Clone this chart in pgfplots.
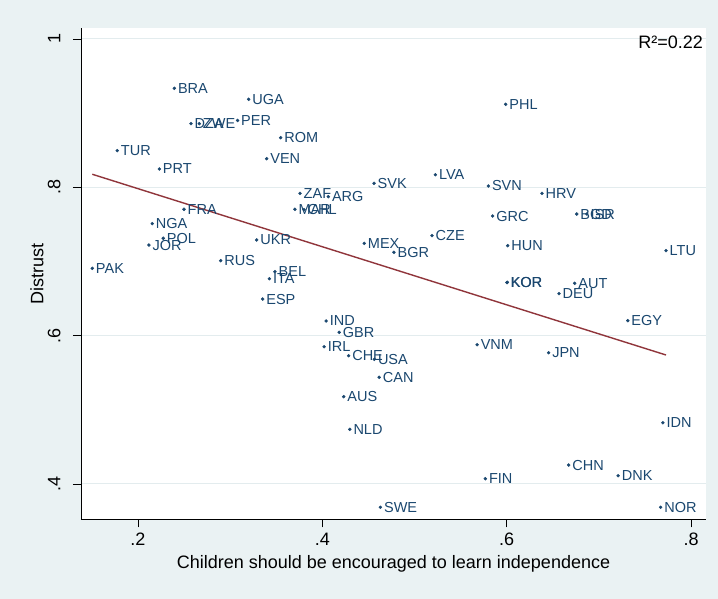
\documentclass[border=0pt]{standalone}
\usepackage{fontspec}
\setmainfont{Liberation Sans}
\usepackage{pgfplots}
\pgfplotsset{compat=1.18}
\usepackage{pgfplotstable}
\definecolor{stnavy}{HTML}{1A476F}
\definecolor{stmaroon}{HTML}{90353B}
\definecolor{stbg}{HTML}{EAF2F3}
\definecolor{stgrid}{HTML}{E3ECEE}

\pgfplotstableread{
lab x y
BRA 0.2394 0.9335
UGA 0.3201 0.9187
DZA 0.2575 0.8858
ZWE 0.2665 0.8858
PER 0.3080 0.8901
ROM 0.3548 0.8669
VEN 0.3396 0.8386
TUR 0.1775 0.8494
PRT 0.2231 0.8247
PHL 0.5989 0.9119
SVK 0.4561 0.8054
LVA 0.5226 0.8170
SVN 0.5801 0.8018
ZAF 0.3758 0.7919
ARG 0.4065 0.7874
MAR 0.3703 0.7704
CHL 0.3801 0.7700
FRA 0.2499 0.7704
NGA 0.2155 0.7510
POL 0.2274 0.7313
JOR 0.2119 0.7222
PAK 0.1504 0.6908
RUS 0.2897 0.7011
UKR 0.3288 0.7290
BEL 0.3486 0.6862
ITA 0.3425 0.6768
ESP 0.3353 0.6494
GRC 0.5848 0.7613
HRV 0.6383 0.7919
BGD 0.6760 0.7640
ISR 0.6870 0.7640
MEX 0.4455 0.7245
BGR 0.4777 0.7124
CZE 0.5190 0.7348
HUN 0.6011 0.7213
LTU 0.7729 0.7146
KOR 0.6007 0.6719
KOR 0.6003 0.6716
AUT 0.6738 0.6706
DEU 0.6568 0.6566
IND 0.4041 0.6198
GBR 0.4183 0.6045
IRL 0.4019 0.5851
CHE 0.4285 0.5730
USA 0.4564 0.5681
CAN 0.4617 0.5439
AUS 0.4232 0.5177
NLD 0.4298 0.4737
VNM 0.5679 0.5878
JPN 0.6455 0.5770
EGY 0.7314 0.6202
IDN 0.7695 0.4826
FIN 0.5768 0.4071
CHN 0.6673 0.4256
DNK 0.7209 0.4112
SWE 0.4630 0.3686
NOR 0.7670 0.3686
}\countries

\begin{document}
\begin{tikzpicture}
\fill[stbg] (-81pt,-79.5pt) rectangle (637pt,519.5pt);
\begin{axis}[
  at={(0,0)}, anchor=south west,
  scale only axis, width=625pt, height=491pt,
  xmin=0.13816, xmax=0.81625, ymin=0.35214, ymax=1.01413,
  axis background/.style={fill=white},
  axis x line*=bottom, axis y line*=left,
  axis line style={black, line width=0.8pt, -},
  xtick={0.2,0.4,0.6,0.8}, xticklabels={.2,.4,.6,.8},
  ytick={0.4,0.6,0.8,1}, yticklabels={.4,.6,.8,1},
  tick align=outside, major tick length=8pt,
  tick style={black, line width=0.8pt},
  ymajorgrids, grid style={stgrid, line width=1pt},
  ticklabel style={font=\fontsize{18}{20}\selectfont},
  yticklabel style={rotate=90, anchor=south},
  yticklabel shift=9pt,
  xticklabel shift=2pt,
  xlabel={Children should be encouraged to learn independence},
  ylabel={Distrust},
  every axis x label/.style={at={(axis description cs:0.5,-0.0906)}, anchor=center},
  every axis y label/.style={at={(axis description cs:-0.0704,0.5)}, anchor=center, rotate=90},
  label style={font=\fontsize{18}{20}\selectfont},
  /pgf/number format/assume math mode=true,
  clip=false,
]
\addplot[only marks, mark=*, mark size=1.5pt, stnavy,
  nodes near coords, point meta=explicit symbolic,
  every node near coord/.style={anchor=west, inner sep=0pt, xshift=3.5pt,
    font=\fontsize{14.5}{16}\selectfont, text=stnavy}]
  table[x=x, y=y, meta=lab] {\countries};
\addplot[stmaroon, line width=1.4pt] coordinates {(0.1504,0.8176) (0.7729,0.5739)};
\node[anchor=east, font=\fontsize{18}{20}\selectfont, inner sep=0pt] at ([xshift=-3pt,yshift=-14pt]rel axis cs:1,1) {R²=0.22};
\end{axis}
\end{tikzpicture}
\end{document}
